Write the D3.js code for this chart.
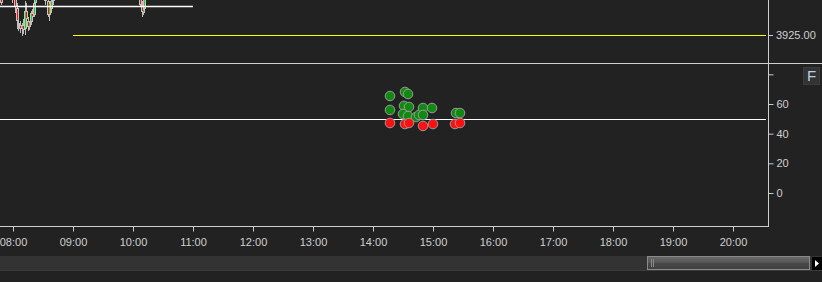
<!DOCTYPE html>
<html lang="en">
<head>
  <meta charset="UTF-8">
  <title>Intraday chart with indicator dots</title>
  <script src="https://d3js.org/d3.v7.min.js"></script>
  <style>
    html, body { margin: 0; padding: 0; background: #222222; overflow: hidden; }
    svg { display: block; }
    text { font-family: "Liberation Sans", Arial, sans-serif; }
  </style>
</head>
<body>
  <svg id="chart" width="822" height="282"></svg>

  <script>
    // hour ticks on the time axis
    const hourTicks = ["08:00", "09:00", "10:00", "11:00", "12:00", "13:00", "14:00",
                       "15:00", "16:00", "17:00", "18:00", "19:00", "20:00"];

    // candles in the top (price) panel, most of them cut off by the top edge
    const candleTime  = ["07:48", "07:59", "08:02", "08:04", "08:05", "08:07", "08:09", "08:10", "08:12",
                         "08:13", "08:15", "08:16", "08:18", "08:19", "08:21", "08:22", "08:32", "08:35",
                         "08:36", "08:38", "08:40", "10:07", "10:09", "10:10", "10:11"];
    const candleOpen  = [3934.5, 3934.5, 3935.0, 3931.75, 3927.5, 3927.5, 3926.5, 3927.5, 3926.5,
                         3931.0, 3928.5, 3927.0, 3928.25, 3930.5, 3930.0, 3933.0, 3934.5, 3933.5,
                         3930.0, 3931.5, 3933.5, 3935.0, 3932.5, 3930.5, 3931.5];
    const candleHigh  = [3935.5, 3935.0, 3935.5, 3933.0, 3929.0, 3928.5, 3928.0, 3929.0, 3933.5,
                         3933.0, 3929.5, 3928.5, 3931.0, 3931.5, 3933.5, 3935.0, 3935.0, 3934.0,
                         3933.5, 3934.0, 3935.0, 3935.5, 3933.5, 3932.0, 3935.0];
    const candleLow   = [3932.5, 3933.0, 3930.5, 3926.5, 3926.0, 3925.5, 3924.75, 3925.25, 3925.0,
                         3927.0, 3926.0, 3926.25, 3927.5, 3928.5, 3929.5, 3931.5, 3932.5, 3929.5,
                         3928.5, 3930.5, 3932.5, 3932.0, 3929.5, 3930.0, 3931.0];
    const candleClose = [3933.0, 3934.0, 3932.0, 3928.5, 3928.0, 3926.5, 3927.5, 3926.25, 3931.0,
                         3929.0, 3927.0, 3928.25, 3930.5, 3929.5, 3933.0, 3934.5, 3933.5, 3930.0,
                         3933.0, 3933.5, 3934.5, 3932.5, 3930.75, 3931.5, 3934.0];

    // horizontal price lines in the top panel
    const highLine = { from: "07:47", to: "11:00", price: 3932.25 };
    const levelLine = { from: "09:00", to: "20:33", price: 3925.00 };

    // indicator dots in the lower panel
    const greenTime  = ["14:17", "14:17", "14:32", "14:35", "14:31", "14:36", "14:30", "14:35",
                        "14:43", "14:46", "14:50", "14:50", "14:59", "15:23", "15:27"];
    const greenValue = [65.4, 56.0, 68.1, 66.7, 58.7, 58.0, 53.3, 51.9,
                        51.2, 52.6, 57.3, 52.6, 57.3, 53.9, 53.9];
    const redTime    = ["14:17", "14:32", "14:36", "14:50", "15:00", "15:22", "15:27"];
    const redValue   = [47.2, 46.5, 47.2, 45.2, 46.5, 46.5, 47.2];

    const lowerTicks = [0, 20, 40, 60, 80];
    const lowerLine = 50;

    const svg = d3.select("#chart");
    const W = 822, H = 282;
    const axisX = 768;
    const panelSplit = 63, plotBottom = 226;
    const parse = d3.timeParse("%H:%M");

    const x = d3.scaleTime()
      .domain([parse("08:00"), parse("20:00")])
      .range([13, 733]);

    const yTop = d3.scaleLinear()
      .domain([3925, 3933.75])
      .range([35, 0]);

    const yLow = d3.scaleLinear()
      .domain([0, 60])
      .range([193, 104]);

    svg.append("rect").attr("width", W).attr("height", H).attr("fill", "#222222");

    // top panel
    const topPanel = svg.append("g");
    topPanel.append("clipPath").attr("id", "clipTop")
      .append("rect").attr("x", 0).attr("y", 0).attr("width", axisX).attr("height", panelSplit);
    const topPlot = topPanel.append("g").attr("clip-path", "url(#clipTop)");

    const candles = candleTime.map((t, i) => ({
      t: parse(t), o: candleOpen[i], h: candleHigh[i], l: candleLow[i], c: candleClose[i]
    }));

    topPlot.selectAll(".wick").data(candles).enter().append("line")
      .attr("x1", d => Math.round(x(d.t)) + 0.5)
      .attr("x2", d => Math.round(x(d.t)) + 0.5)
      .attr("y1", d => yTop(d.h))
      .attr("y2", d => yTop(d.l))
      .attr("stroke", "#bdbdbd").attr("stroke-width", 1);

    topPlot.selectAll(".body").data(candles).enter().append("rect")
      .attr("x", d => Math.round(x(d.t)) - 1)
      .attr("y", d => yTop(Math.max(d.o, d.c)))
      .attr("width", 3)
      .attr("height", d => Math.max(1, Math.abs(yTop(d.o) - yTop(d.c))))
      .attr("fill", "#c4c4c4");

    topPlot.selectAll(".core").data(candles).enter().append("rect")
      .attr("x", d => Math.round(x(d.t)))
      .attr("y", d => yTop(Math.max(d.o, d.c)) + 1)
      .attr("width", 1)
      .attr("height", d => Math.max(0, Math.abs(yTop(d.o) - yTop(d.c)) - 2))
      .attr("fill", d => d.c >= d.o ? "#22cc22" : "#ee1111");

    topPlot.append("line")
      .attr("x1", 0).attr("x2", x(parse(highLine.to)))
      .attr("y1", Math.round(yTop(highLine.price)) + 0.5)
      .attr("y2", Math.round(yTop(highLine.price)) + 0.5)
      .attr("stroke", "#ffffff").attr("stroke-width", 1.5);

    topPlot.append("line")
      .attr("x1", x(parse(levelLine.from))).attr("x2", x(parse(levelLine.to)))
      .attr("y1", Math.round(yTop(levelLine.price)) + 0.5)
      .attr("y2", Math.round(yTop(levelLine.price)) + 0.5)
      .attr("stroke", "#ffff00").attr("stroke-width", 1);

    topPanel.append("line")
      .attr("x1", axisX + 0.5).attr("x2", axisX + 5)
      .attr("y1", Math.round(yTop(levelLine.price)) + 0.5)
      .attr("y2", Math.round(yTop(levelLine.price)) + 0.5)
      .attr("stroke", "#cccccc");
    topPanel.append("text")
      .attr("x", axisX + 8).attr("y", yTop(levelLine.price))
      .attr("dy", "0.35em")
      .attr("fill", "#d0d0d0").attr("font-size", 11)
      .text(d3.format(".2f")(levelLine.price));

    // panel separator
    svg.append("line")
      .attr("x1", 0).attr("x2", W)
      .attr("y1", panelSplit + 0.5).attr("y2", panelSplit + 0.5)
      .attr("stroke", "#d0d0d0");

    // lower panel
    const lowPanel = svg.append("g");
    lowPanel.append("line")
      .attr("x1", 0).attr("x2", x(parse(levelLine.to)))
      .attr("y1", Math.round(yLow(lowerLine)) + 0.5)
      .attr("y2", Math.round(yLow(lowerLine)) + 0.5)
      .attr("stroke", "#ffffff").attr("stroke-width", 1);

    const dots = [];
    greenTime.forEach((t, i) => dots.push({ t: parse(t), v: greenValue[i], c: "#108a10" }));
    redTime.forEach((t, i) => dots.push({ t: parse(t), v: redValue[i], c: "#ff0f0f" }));

    lowPanel.selectAll(".dot").data(dots).enter().append("circle")
      .attr("cx", d => x(d.t))
      .attr("cy", d => yLow(d.v))
      .attr("r", 4.8)
      .attr("fill", d => d.c)
      .attr("stroke", "#9a9a9a")
      .attr("stroke-width", 1);

    const rightAxis = d3.axisRight(yLow)
      .tickValues(lowerTicks)
      .tickSize(5)
      .tickPadding(3)
      .tickFormat(d => d === 80 ? "" : d);
    const ra = lowPanel.append("g")
      .attr("transform", `translate(${axisX + 0.5},0)`)
      .call(rightAxis);
    ra.select(".domain").remove();
    ra.selectAll("line").attr("stroke", "#cccccc");
    ra.selectAll("text").attr("fill", "#d0d0d0").attr("font-size", 11)
      .style("font-family", "'Liberation Sans', Arial, sans-serif");

    // F button
    svg.append("rect")
      .attr("x", 803.5).attr("y", 67.5).attr("width", 16).attr("height", 17)
      .attr("fill", "#333333").attr("stroke", "#3c3c3c");
    svg.append("text")
      .attr("x", 811.5).attr("y", 81).attr("text-anchor", "middle")
      .attr("fill", "#b8d0e8").attr("font-size", 15)
      .text("F");

    // right price axis line
    svg.append("line")
      .attr("x1", axisX + 0.5).attr("x2", axisX + 0.5)
      .attr("y1", 0).attr("y2", plotBottom + 0.5)
      .attr("stroke", "#d0d0d0");

    // time axis
    const timeAxis = d3.axisBottom(x)
      .tickValues(hourTicks.map(parse))
      .tickSize(5)
      .tickPadding(7)
      .tickFormat(d3.timeFormat("%H:%M"));
    const ta = svg.append("g")
      .attr("transform", `translate(0,${plotBottom + 0.5})`)
      .call(timeAxis);
    ta.select(".domain").remove();
    ta.selectAll("line").attr("stroke", "#cccccc");
    ta.selectAll("text").attr("fill", "#d0d0d0").attr("font-size", 11)
      .style("font-family", "'Liberation Sans', Arial, sans-serif");
    svg.append("line")
      .attr("x1", 0).attr("x2", axisX + 1)
      .attr("y1", plotBottom + 0.5).attr("y2", plotBottom + 0.5)
      .attr("stroke", "#d0d0d0");

    // scrollbar strip
    svg.append("rect").attr("x", 0).attr("y", 256).attr("width", W).attr("height", 14)
      .attr("fill", "#333333");
    svg.append("line").attr("x1", 0).attr("x2", W).attr("y1", 270.5).attr("y2", 270.5)
      .attr("stroke", "#3a3a3a");

    const grad = svg.append("defs").append("linearGradient")
      .attr("id", "thumb").attr("x1", 0).attr("x2", 0).attr("y1", 0).attr("y2", 1);
    grad.append("stop").attr("offset", "0%").attr("stop-color", "#6a6a6a");
    grad.append("stop").attr("offset", "45%").attr("stop-color", "#575757");
    grad.append("stop").attr("offset", "55%").attr("stop-color", "#474747");
    grad.append("stop").attr("offset", "100%").attr("stop-color", "#404040");

    svg.append("rect")
      .attr("x", 647.5).attr("y", 256.5).attr("width", 162).attr("height", 13)
      .attr("fill", "url(#thumb)").attr("stroke", "#8a8a8a");
    [651.5, 653.5].forEach(gx => {
      svg.append("line").attr("x1", gx).attr("x2", gx).attr("y1", 259).attr("y2", 267)
        .attr("stroke", "#8a8a8a");
    });

    svg.append("rect").attr("x", 812).attr("y", 257).attr("width", 10).attr("height", 13)
      .attr("fill", "#000000");
    svg.append("path")
      .attr("d", "M815,260 L819,263.5 L815,267 Z")
      .attr("fill", "#ffffff");
  </script>
</body>
</html>
